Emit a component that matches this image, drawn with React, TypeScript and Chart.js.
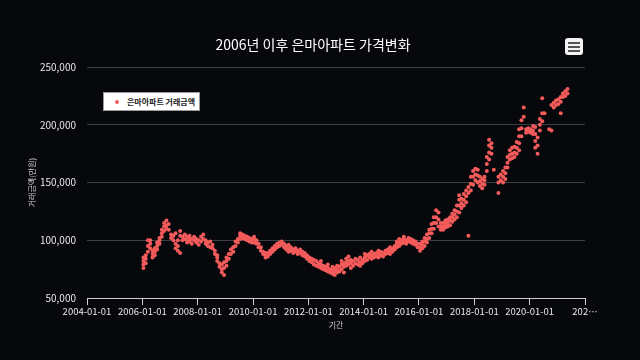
import React, { useEffect, useRef } from 'react';
import { Chart, registerables } from 'chart.js';

Chart.register(...registerables);

const chartTitle = '2006년 이후 은마아파트 가격변화';
const seriesName = '은마아파트 거래금액';
const xAxisTitle = '기간';
const yAxisTitle = '거래금액(만원)';
const xTickYears = [2004, 2006, 2008, 2010, 2012, 2014, 2016, 2018, 2020, 2022];
const yTickValues = [50000, 100000, 150000, 200000, 250000];

// monthly trade prices (만원), index 0 = January
const trades2006: number[][] = [
  [76000, 79000, 82000, 85000], [80000, 84000, 87000], [90000, 95000, 100000], [93000, 97000, 100000],
  [85000, 88000, 91000], [87000, 90000, 93000], [92000, 95000, 98000], [97000, 100000, 102000],
  [103000, 106000, 109000], [108000, 112000, 115000], [110000, 113000, 117000], [109000, 114000],
];
const trades2007: number[][] = [
  [102000, 105000], [100000, 104000], [93000, 97000, 106000], [91000, 95000, 100000],
  [89000, 104000, 108000], [100000, 103000], [101000, 105000], [98000, 100000, 103000],
  [99000, 102000, 104000], [97000, 101000], [100000, 103000], [98000, 101000],
];
const trades2008: number[][] = [
  [96000, 100000], [99000, 103000], [101000, 105000], [97000, 100000],
  [95000, 98000], [94000, 99000], [93000, 96000], [88000, 91000],
  [82000, 85000, 87000], [77000, 80000], [72000, 75000, 79000], [70000, 76000, 81000],
];
const trades2009: number[][] = [
  [78000, 82000, 85000], [84000, 88000], [88000, 92000], [90000, 94000],
  [95000, 99000], [98000, 101000], [101000, 104000, 106000], [102000, 105000],
  [101000, 104000], [100000, 103000], [99000, 102000], [98000, 101000],
];
const trades2010: number[][] = [
  [98000, 101000, 103000], [97000, 100000], [94000, 97000], [91000, 94000],
  [88000, 90000], [85000, 87000, 89000], [86000, 89000], [88000, 91000],
  [90000, 93000], [92000, 95000], [94000, 97000], [95000, 98000],
];
const trades2011: number[][] = [
  [96000, 99000], [94000, 97000], [92000, 95000], [90000, 93000, 96000],
  [91000, 94000], [89000, 92000], [90000, 93000], [88000, 91000],
  [89000, 92000], [87000, 90000], [86000, 89000], [84000, 87000],
];
const trades2012: number[][] = [
  [82000, 85000], [81000, 84000], [79000, 83000], [78000, 82000],
  [77000, 80000], [76000, 79000, 82000], [75000, 78000], [74000, 77000],
  [73000, 76000, 79000], [72000, 75000], [71000, 74000, 77000], [70000, 73000, 76000],
];
const trades2013: number[][] = [
  [72000, 75000, 78000], [73000, 77000], [75000, 79000, 82000], [72000, 77000, 80000],
  [78000, 81000, 84000], [79000, 82000, 86000], [76000, 80000, 83000], [78000, 82000],
  [80000, 84000], [79000, 83000], [78000, 81000, 85000], [80000, 83000],
];
const trades2014: number[][] = [
  [82000, 85000, 88000], [83000, 87000], [85000, 88000], [84000, 87000, 90000],
  [85000, 88000], [86000, 89000], [85000, 88000, 91000], [87000, 90000],
  [86000, 89000], [88000, 91000], [89000, 92000], [88000, 91000, 94000],
];
const trades2015: number[][] = [
  [90000, 93000], [92000, 95000], [94000, 97000, 99000], [95000, 98000, 101000],
  [97000, 100000], [98000, 101000, 103000], [97000, 100000], [99000, 102000],
  [98000, 101000], [97000, 100000], [96000, 99000], [94000, 97000],
];
const trades2016: number[][] = [
  [91000, 94000, 97000], [93000, 96000, 99000], [95000, 99000, 102000], [98000, 101000, 105000],
  [102000, 106000, 109000], [106000, 110000, 114000], [110000, 115000, 120000], [115000, 120000, 126000],
  [112000, 118000, 124000], [109000, 112000, 115000], [109000, 112000, 115000], [111000, 114000, 117000],
];
const trades2017: number[][] = [
  [112000, 115000, 118000], [113000, 117000, 120000], [116000, 120000, 123000], [118000, 122000, 126000],
  [120000, 125000, 130000], [124000, 130000, 135000, 139000], [128000, 132000, 136000], [130000, 135000, 140000],
  [133000, 138000, 143000], [104000, 141000, 146000], [143000, 149000, 155000], [148000, 155000, 160000],
];
const trades2018: number[][] = [
  [152000, 157000, 162000], [150000, 156000, 161000], [147000, 151000, 155000], [145000, 149000, 153000],
  [148000, 152000, 155000], [160000, 166000, 172000], [170000, 176000, 182000, 187000], [175000, 180000, 184000],
  [161000], [], [141000, 150000, 155000], [152000, 157000],
];
const trades2019: number[][] = [
  [150000, 155000, 160000], [153000, 158000, 163000], [163000, 167000, 172000], [170000, 174000, 178000],
  [171000, 175000, 180000], [172000, 176000, 181000], [175000, 180000, 185000], [178000, 184000, 190000, 196000],
  [190000, 197000, 204000], [207000, 215000], [193000, 196000], [194000, 197000],
];
const trades2020: number[][] = [
  [193000, 196000], [192000, 195000, 199000], [180000, 186000, 192000, 198000], [175000, 182000, 189000],
  [195000, 200000, 205000], [203000, 210000, 223000], [210000], [],
  [196000], [195000, 217000], [215000, 219000], [217000, 221000],
];
const trades2021: number[][] = [
  [218000, 222000], [210000, 220000, 224000], [224000, 227000], [225000, 229000],
  [227000, 231000],
];

const tradeYears = [2006, 2007, 2008, 2009, 2010, 2011, 2012, 2013, 2014, 2015, 2016, 2017, 2018, 2019, 2020, 2021];
const tradesByYear = [
  trades2006, trades2007, trades2008, trades2009, trades2010, trades2011, trades2012, trades2013,
  trades2014, trades2015, trades2016, trades2017, trades2018, trades2019, trades2020, trades2021,
];

const BG = '#07080c';
const RED = '#f45b5b';
const GRID = '#3e3f45';
const AXIS = '#d0d0d0';
const TICK = '#e8e8ea';
const LABEL = '#d0d0d0';
const FONT = "'Noto Sans CJK KR', 'Noto Sans', sans-serif";

export default function App() {
  const canvasRef = useRef<HTMLCanvasElement>(null);

  useEffect(() => {
    document.body.style.margin = '0';
    document.body.style.background = BG;
    const canvas = canvasRef.current;
    if (!canvas) return;

    const points: { x: number; y: number }[] = [];
    tradeYears.forEach((yr, i) => {
      tradesByYear[i].forEach((prices, m) => {
        prices.forEach((p) => points.push({ x: Date.UTC(yr, m, 15), y: p }));
      });
    });

    const xMin = Date.UTC(xTickYears[0], 0, 1);
    const xMax = Date.UTC(xTickYears[xTickYears.length - 1], 0, 1);

    const chart = new Chart(canvas, {
      type: 'scatter',
      data: {
        datasets: [
          {
            label: seriesName,
            data: points,
            backgroundColor: RED,
            borderColor: RED,
            borderWidth: 0,
            pointRadius: 2,
            pointHoverRadius: 2,
          },
        ],
      },
      options: {
        animation: false,
        responsive: false,
        devicePixelRatio: 1,
        layout: { padding: { left: 0, right: 14, top: 0, bottom: 0 } },
        plugins: {
          legend: { display: false },
          tooltip: { enabled: false },
          title: {
            display: true,
            text: chartTitle,
            color: '#ffffff',
            font: { family: FONT, size: 14, weight: 'normal', lineHeight: 1.2 },
            padding: { top: 36, bottom: 14.2 },
          },
        },
        scales: {
          x: {
            type: 'linear',
            min: xMin,
            max: xMax,
            afterBuildTicks: (s: any) => {
              s.ticks = xTickYears.map((y) => ({ value: Date.UTC(y, 0, 1) }));
            },
            afterFit: (s: any) => {
              s.height = 62;
            },
            ticks: {
              autoSkip: false,
              maxRotation: 0,
              color: TICK,
              font: { family: FONT, size: 9.5 },
              padding: 1,
              callback: (v: any) =>
                Number(v) === xMax ? '202…' : new Date(Number(v)).toISOString().slice(0, 10),
            },
            grid: { drawOnChartArea: false, drawTicks: true, tickLength: 7, color: AXIS },
            border: { display: true, color: AXIS, width: 1 },
            title: {
              display: true,
              text: xAxisTitle,
              color: LABEL,
              font: { family: FONT, size: 8, lineHeight: 1.2 },
              padding: { top: 0, bottom: 30 },
            },
          },
          y: {
            type: 'linear',
            min: 50000,
            max: 250000,
            afterBuildTicks: (s: any) => {
              s.ticks = yTickValues.map((v) => ({ value: v }));
            },
            afterFit: (s: any) => {
              s.width = 87;
            },
            ticks: {
              color: TICK,
              font: { family: FONT, size: 10 },
              padding: 11,
              callback: (v: any) => Number(v).toLocaleString('en-US'),
            },
            grid: { color: GRID, drawTicks: false, lineWidth: 1 },
            border: { display: false },
            title: {
              display: true,
              text: yAxisTitle,
              color: LABEL,
              font: { family: FONT, size: 8, lineHeight: 1.2 },
              padding: { top: 27, bottom: 0 },
            },
          },
          yRightSpace: {
            type: 'linear',
            position: 'right',
            display: true,
            min: 50000,
            max: 250000,
            afterFit: (s: any) => {
              s.width = 41;
            },
            ticks: { display: false },
            grid: { display: false, drawTicks: false },
            border: { display: false },
          },
        },
      },
    });
    return () => chart.destroy();
  }, []);

  return (
    <div style={{ position: 'fixed', left: 0, top: 0, width: 640, height: 360, background: BG, overflow: 'hidden' }}>
      <canvas ref={canvasRef} width={640} height={360} style={{ display: 'block', width: 640, height: 360 }} />
      <div
        style={{
          position: 'absolute', left: 103, top: 92, width: 97, height: 19, background: '#ffffff',
          border: '1px solid #9a9a9a', boxSizing: 'border-box', display: 'flex', alignItems: 'center',
          fontFamily: FONT, fontSize: 8, fontWeight: 'bold', color: '#222222', whiteSpace: 'nowrap',
        }}
      >
        <span style={{ display: 'inline-block', width: 4, height: 4, borderRadius: 2, background: RED, marginLeft: 11, marginRight: 8 }} />
        <span>{seriesName}</span>
      </div>
      <div
        style={{
          position: 'absolute', left: 565, top: 38, width: 18, height: 17, background: '#f4f4f4',
          borderRadius: 3, display: 'flex', flexDirection: 'column', justifyContent: 'center', alignItems: 'center', gap: 2,
        }}
      >
        <span style={{ display: 'block', width: 12, height: 2, background: '#555' }} />
        <span style={{ display: 'block', width: 12, height: 2, background: '#555' }} />
        <span style={{ display: 'block', width: 12, height: 2, background: '#555' }} />
      </div>
    </div>
  );
}
